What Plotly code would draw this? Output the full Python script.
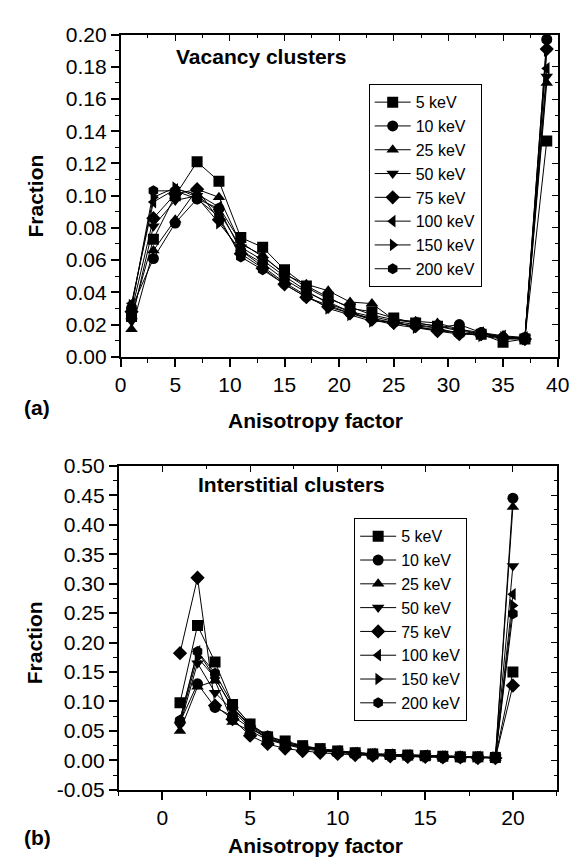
import plotly.graph_objects as go

# ---------------- data ----------------
energies = ["5 keV", "10 keV", "25 keV", "50 keV", "75 keV", "100 keV", "150 keV", "200 keV"]
symbols = ["square", "circle", "triangle-up", "triangle-down", "diamond", "triangle-left", "triangle-right", "hexagon"]

vac_x = [1, 3, 5, 7, 9, 11, 13, 15, 17, 19, 21, 23, 25, 27, 29, 31, 33, 35, 37, 39]
vac_5 = [0.025, 0.073, 0.100, 0.121, 0.109, 0.074, 0.068, 0.054, 0.044, 0.037, 0.030, 0.028, 0.024, 0.021, 0.019, 0.016, 0.014, 0.009, 0.011, 0.134]
vac_10 = [0.030, 0.061, 0.083, 0.098, 0.092, 0.066, 0.058, 0.048, 0.040, 0.034, 0.028, 0.025, 0.022, 0.020, 0.018, 0.020, 0.015, 0.012, 0.012, 0.197]
vac_25 = [0.017, 0.066, 0.085, 0.104, 0.099, 0.070, 0.063, 0.051, 0.045, 0.041, 0.034, 0.033, 0.023, 0.022, 0.021, 0.017, 0.014, 0.013, 0.011, 0.170]
vac_50 = [0.022, 0.081, 0.097, 0.100, 0.090, 0.068, 0.060, 0.050, 0.041, 0.033, 0.028, 0.023, 0.020, 0.018, 0.016, 0.015, 0.013, 0.011, 0.012, 0.174]
vac_75 = [0.028, 0.086, 0.101, 0.104, 0.085, 0.064, 0.055, 0.045, 0.037, 0.031, 0.027, 0.023, 0.021, 0.019, 0.016, 0.014, 0.014, 0.012, 0.011, 0.191]
vac_100 = [0.033, 0.096, 0.104, 0.101, 0.093, 0.071, 0.062, 0.052, 0.043, 0.036, 0.031, 0.026, 0.023, 0.021, 0.019, 0.017, 0.015, 0.013, 0.012, 0.179]
vac_150 = [0.032, 0.099, 0.105, 0.099, 0.083, 0.066, 0.056, 0.046, 0.038, 0.030, 0.026, 0.022, 0.022, 0.018, 0.017, 0.015, 0.013, 0.012, 0.011, 0.190]
vac_200 = [0.030, 0.103, 0.103, 0.098, 0.087, 0.062, 0.054, 0.045, 0.037, 0.032, 0.027, 0.024, 0.021, 0.019, 0.018, 0.014, 0.015, 0.011, 0.011, 0.197]

int_x = list(range(1, 21))
int_5 = [0.098, 0.229, 0.167, 0.095, 0.062, 0.040, 0.033, 0.025, 0.020, 0.016, 0.013, 0.011, 0.010, 0.009, 0.008, 0.007, 0.006, 0.006, 0.005, 0.150]
int_10 = [0.065, 0.130, 0.090, 0.075, 0.055, 0.038, 0.028, 0.022, 0.017, 0.014, 0.012, 0.010, 0.009, 0.008, 0.007, 0.006, 0.006, 0.005, 0.005, 0.445]
int_25 = [0.050, 0.125, 0.135, 0.065, 0.050, 0.035, 0.027, 0.020, 0.016, 0.013, 0.011, 0.009, 0.008, 0.007, 0.006, 0.006, 0.005, 0.005, 0.004, 0.430]
int_50 = [0.060, 0.165, 0.115, 0.085, 0.055, 0.037, 0.028, 0.022, 0.018, 0.015, 0.012, 0.010, 0.009, 0.008, 0.007, 0.006, 0.006, 0.005, 0.005, 0.330]
int_75 = [0.182, 0.310, 0.093, 0.070, 0.042, 0.028, 0.020, 0.016, 0.013, 0.011, 0.009, 0.008, 0.007, 0.006, 0.006, 0.005, 0.005, 0.004, 0.004, 0.127]
int_100 = [0.070, 0.185, 0.140, 0.090, 0.060, 0.040, 0.030, 0.024, 0.019, 0.016, 0.013, 0.011, 0.010, 0.009, 0.008, 0.007, 0.006, 0.006, 0.005, 0.282]
int_150 = [0.065, 0.175, 0.140, 0.088, 0.058, 0.038, 0.028, 0.022, 0.017, 0.014, 0.012, 0.010, 0.009, 0.008, 0.007, 0.006, 0.006, 0.005, 0.005, 0.263]
int_200 = [0.068, 0.185, 0.148, 0.095, 0.062, 0.042, 0.031, 0.024, 0.019, 0.016, 0.013, 0.011, 0.010, 0.009, 0.008, 0.007, 0.006, 0.006, 0.005, 0.249]

vac_series = [vac_5, vac_10, vac_25, vac_50, vac_75, vac_100, vac_150, vac_200]
int_series = [int_5, int_10, int_25, int_50, int_75, int_100, int_150, int_200]

vac_yticks = [0.00, 0.02, 0.04, 0.06, 0.08, 0.10, 0.12, 0.14, 0.16, 0.18, 0.20]
int_yticks = [-0.05, 0.00, 0.05, 0.10, 0.15, 0.20, 0.25, 0.30, 0.35, 0.40, 0.45, 0.50]

FONT = "Liberation Sans, Arial, sans-serif"

fig = go.Figure()
for name, sym, ys in zip(energies, symbols, vac_series):
    fig.add_trace(go.Scatter(x=vac_x, y=ys, name=name, mode="lines+markers",
                             line=dict(color="black", width=1),
                             marker=dict(symbol=sym, size=11, color="black"),
                             xaxis="x", yaxis="y", legend="legend"))
for name, sym, ys in zip(energies, symbols, int_series):
    fig.add_trace(go.Scatter(x=int_x, y=ys, name=name, mode="lines+markers",
                             line=dict(color="black", width=1),
                             marker=dict(symbol=sym, size=11, color="black"),
                             xaxis="x2", yaxis="y2", legend="legend2"))

# empty helper traces so the mirrored (inside-tick) axes get drawn
for xa, ya in [("x3", "y"), ("x", "y3"), ("x4", "y2"), ("x2", "y4")]:
    fig.add_trace(go.Scatter(x=[None], y=[None], xaxis=xa, yaxis=ya, mode="markers",
                             showlegend=False, hoverinfo="skip"))

W, H = 583, 861
top_dom_x = [110 / W, 561 / W]
top_dom_y = [1 - 346 / H, 1 - 15 / H]
bot_dom_x = [108 / W, 560 / W]
bot_dom_y = [1 - 791 / H, 1 - 458 / H]

tickfont = dict(family=FONT, size=21, color="black")

def main_axis(domain, rng, dtick, anchor, minor_dtick, tickvals=None):
    d = dict(domain=domain, range=rng, dtick=dtick, tick0=0, anchor=anchor,
             showline=True, linecolor="black", linewidth=1.5, mirror=True,
             ticks="outside", ticklen=8, tickwidth=1.5, tickcolor="black",
             minor=dict(dtick=minor_dtick, ticks="outside", ticklen=4, tickwidth=1.2, tickcolor="black"),
             showgrid=False, zeroline=False, tickfont=tickfont)
    if tickvals is not None:
        d["tickmode"] = "array"
        d["tickvals"] = tickvals
        d["ticktext"] = [f"{v:.2f}" for v in tickvals]
    return d

def mirror_axis(domain, rng, dtick, anchor, overlay, side, minor_dtick):
    return dict(domain=domain, range=rng, dtick=dtick, tick0=0, anchor=anchor, overlaying=overlay,
                side=side, showline=False, ticks="inside", ticklen=6, tickwidth=1.3, tickcolor="black",
                minor=dict(dtick=minor_dtick, ticks="inside", ticklen=3, tickwidth=1, tickcolor="black"),
                showticklabels=False, showgrid=False, zeroline=False)

legend_font = dict(family=FONT, size=16, color="black")

fig.update_layout(
    width=W, height=H, margin=dict(l=0, r=0, t=0, b=0),
    paper_bgcolor="white", plot_bgcolor="white",
    font=dict(family=FONT, color="black"),
    xaxis=main_axis(top_dom_x, [0, 40], 5, "y", 2.5),
    yaxis=main_axis(top_dom_y, [0, 0.20], 0.02, "x", 0.01, vac_yticks),
    xaxis2=main_axis(bot_dom_x, [-2.5, 22.5], 5, "y2", 2.5),
    yaxis2=main_axis(bot_dom_y, [-0.05, 0.50], 0.05, "x2", 0.025, int_yticks),
    xaxis3=mirror_axis(top_dom_x, [0, 40], 5, "y", "x", "top", 2.5),
    yaxis3=mirror_axis(top_dom_y, [0, 0.20], 0.02, "x", "y", "right", 0.01),
    xaxis4=mirror_axis(bot_dom_x, [-2.5, 22.5], 5, "y2", "x2", "top", 2.5),
    yaxis4=mirror_axis(bot_dom_y, [-0.05, 0.50], 0.05, "x2", "y2", "right", 0.025),
    legend=dict(x=366 / W, y=1 - 66 / H, xanchor="left", yanchor="top",
                bordercolor="black", borderwidth=1, bgcolor="white",
                font=legend_font, tracegroupgap=0, itemwidth=36),
    legend2=dict(x=351 / W, y=1 - 512 / H, xanchor="left", yanchor="top",
                 bordercolor="black", borderwidth=1, bgcolor="white",
                 font=legend_font, tracegroupgap=0, itemwidth=36),
    showlegend=True,
)

bold = dict(family=FONT, size=21, color="black")
ann = [
    dict(text="<b>Vacancy clusters</b>", x=165 / W, y=1 - 37 / H, xanchor="left", yanchor="middle"),
    dict(text="<b>Interstitial clusters</b>", x=188 / W, y=1 - 477 / H, xanchor="left", yanchor="middle"),
    dict(text="<b>Anisotropy factor</b>", x=311 / W, y=1 - 412 / H, xanchor="center", yanchor="middle"),
    dict(text="<b>Anisotropy factor</b>", x=311 / W, y=1 - 848 / H, xanchor="center", yanchor="middle"),
    dict(text="<b>(a)</b>", x=8 / W, y=1 - 398 / H, xanchor="left", yanchor="middle"),
    dict(text="<b>(b)</b>", x=8 / W, y=1 - 840 / H, xanchor="left", yanchor="middle"),
    dict(text="<b>Fraction</b>", x=22 / W, y=1 - 181 / H, xanchor="center", yanchor="middle", textangle=-90),
    dict(text="<b>Fraction</b>", x=22 / W, y=1 - 640 / H, xanchor="center", yanchor="middle", textangle=-90),
]
fig.update_layout(annotations=[dict(a, xref="paper", yref="paper", showarrow=False, font=bold) for a in ann])

fig.write_html("out.html")
